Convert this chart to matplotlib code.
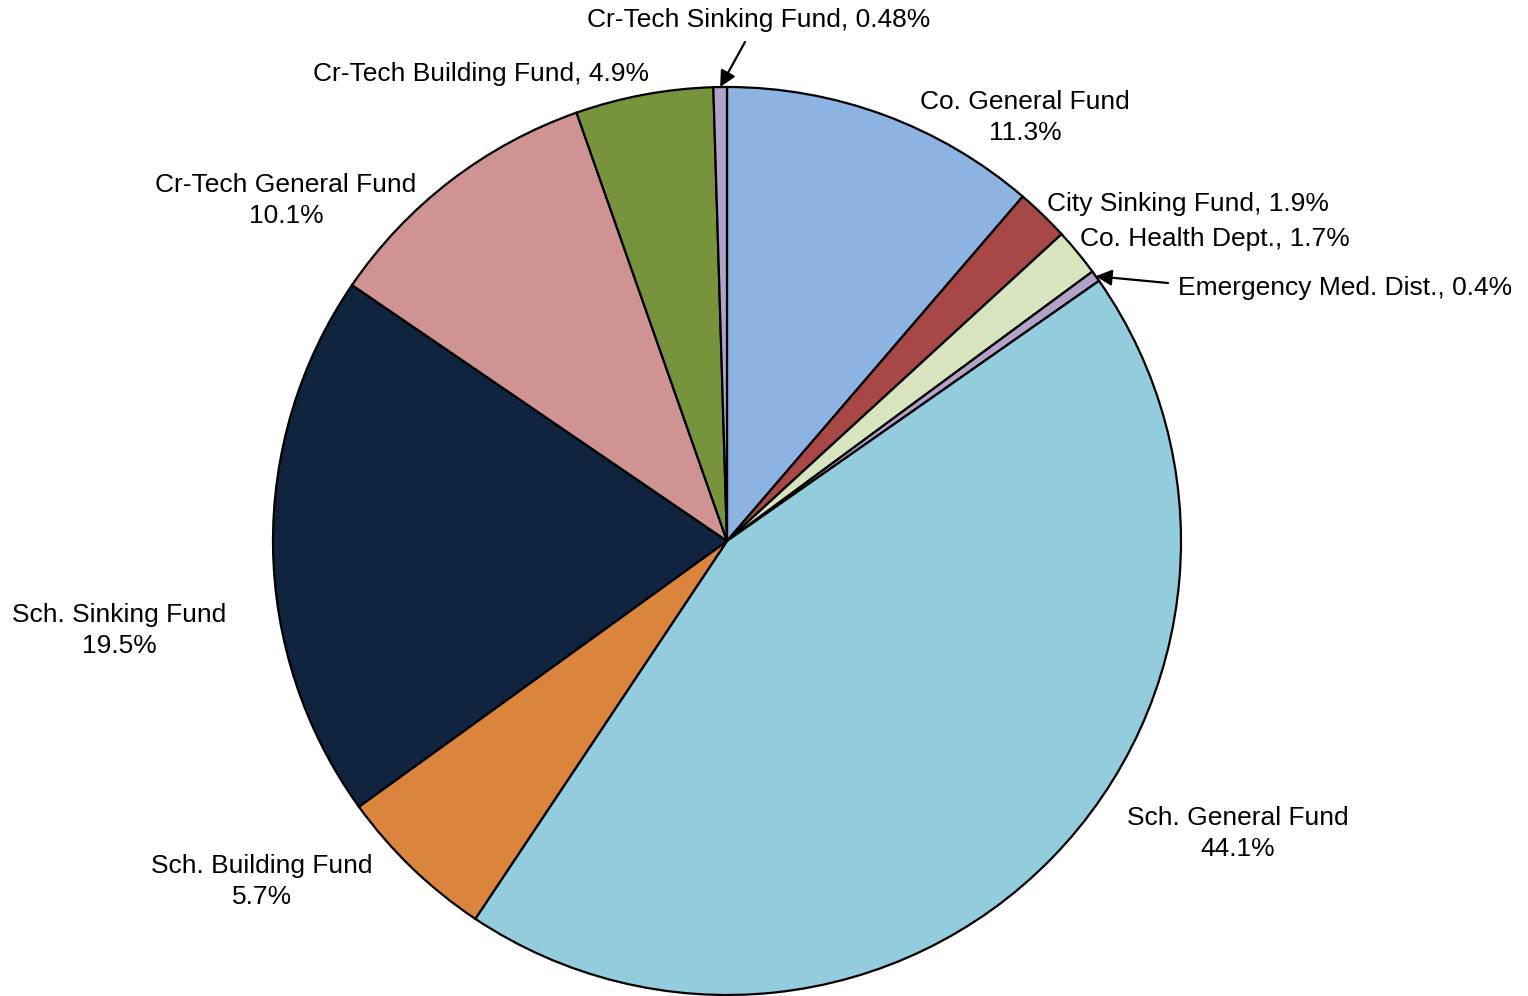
import numpy as np
import matplotlib
matplotlib.use("Agg")
from matplotlib import pyplot as plt

labels = ["Co. General Fund", "City Sinking Fund", "Co. Health Dept.", "Emergency Med. Dist.",
          "Sch. General Fund", "Sch. Building Fund", "Sch. Sinking Fund",
          "Cr-Tech General Fund", "Cr-Tech Building Fund", "Cr-Tech Sinking Fund"]
shares = [11.3, 1.9, 1.7, 0.4, 44.1, 5.7, 19.5, 10.1, 4.9, 0.48]
pct_text = ["11.3%", "1.9%", "1.7%", "0.4%", "44.1%", "5.7%", "19.5%", "10.1%", "4.9%", "0.48%"]
colors = ["#8DB3E2", "#A84846", "#D7E4BD", "#B3A2C7", "#93CDDD",
          "#DA843E", "#10243F", "#D09393", "#77933C", "#B3A2C7"]

plt.rcParams['font.family'] = ['Liberation Sans', 'DejaVu Sans']

W, H = 1528, 996
fig = plt.figure(figsize=(W / 100, H / 100), dpi=100)
ax = fig.add_axes([0, 0, 1, 1])

cx, cy, r = 727, H - 541, 454
ax.pie(shares, colors=colors, startangle=90, counterclock=False, center=(cx, cy), radius=r,
       wedgeprops=dict(edgecolor="black", linewidth=1.6), frame=True)
ax.set_xlim(0, W)
ax.set_ylim(0, H)
ax.set_aspect("equal")
ax.axis("off")

fs = 19


def mid_angle(i):
    tot = sum(shares)
    before = sum(shares[:i])
    frac = (before + shares[i] / 2) / tot
    return np.deg2rad(90 - 360 * frac)


def edge_point(i):
    a = mid_angle(i)
    return cx + r * np.cos(a), cy + r * np.sin(a)


# two-line labels: (index, x, y of first line in pixels)
two_line = {0: (1025, 102), 7: (286, 185), 4: (1238, 818), 5: (262, 866), 6: (119, 615)}
for i, (x, y) in two_line.items():
    ax.text(x, H - y, labels[i], ha="center", va="center", fontsize=fs)
    ax.text(x, H - y - 31, pct_text[i], ha="center", va="center", fontsize=fs)

# one-line labels
one_line = {1: (1047, 204), 2: (1080, 239), 8: (481, 74)}
for i, (x, y) in one_line.items():
    ha = "center" if i == 8 else "left"
    ax.text(x, H - y, f"{labels[i]}, {pct_text[i]}", ha=ha, va="center", fontsize=fs)

# labels with arrows
arrowed = {9: ((759, 20), "center", (745, 42)), 3: ((1178, 288), "left", (1168, 283))}
for i, ((x, y), ha, (sx, sy)) in arrowed.items():
    ax.text(x, H - y, f"{labels[i]}, {pct_text[i]}", ha=ha, va="center", fontsize=fs)
    ax.annotate("", xy=edge_point(i), xytext=(sx, H - sy),
                arrowprops=dict(arrowstyle="-|>", color="black", lw=1.6, mutation_scale=24,
                                shrinkA=0, shrinkB=0))

fig.savefig("out.png", dpi=100)
